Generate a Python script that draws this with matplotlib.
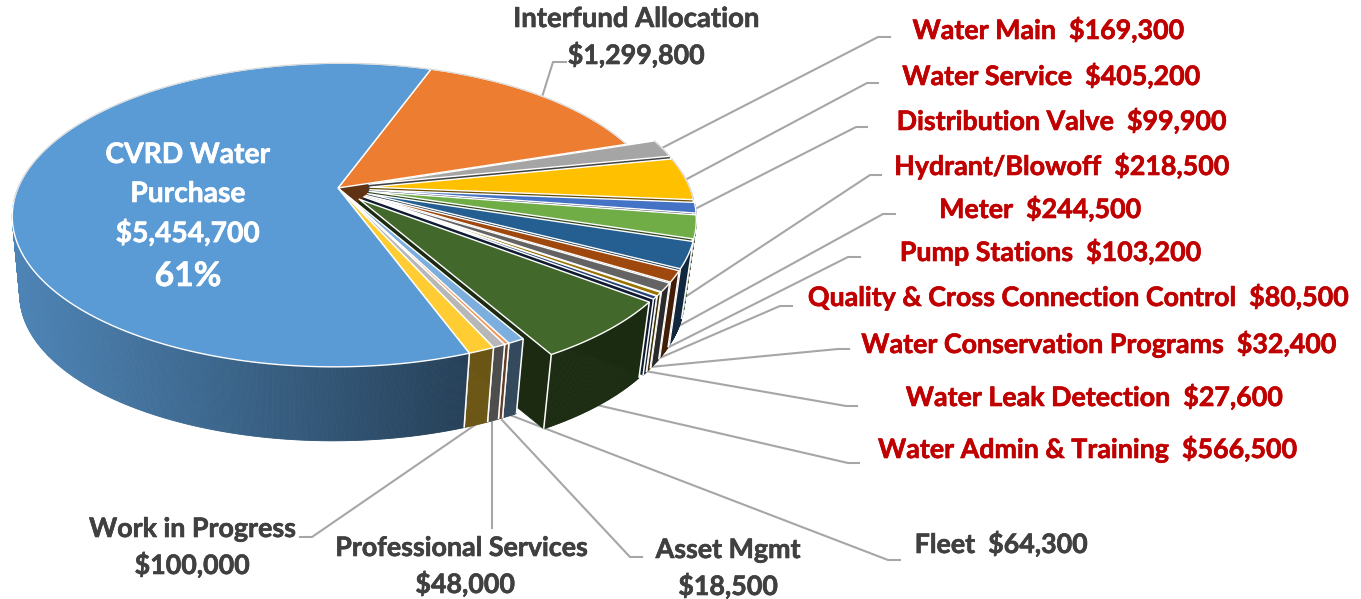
import numpy as np
import matplotlib
matplotlib.use('Agg')
import matplotlib.pyplot as plt
import matplotlib.patheffects as pe
from matplotlib.patches import Polygon

plt.rcParams['font.family'] = ['Lato', 'DejaVu Sans']

# Datos, en sentido horario desde CVRD
names = ['CVRD Water Purchase', 'Interfund Allocation', 'Water Main', 'Water Service',
         'Distribution Valve', 'Hydrant/Blowoff', 'Meter', 'Pump Stations',
         'Quality & Cross Connection Control', 'Water Conservation Programs',
         'Water Leak Detection', 'Water Admin & Training', 'Fleet', 'Asset Mgmt',
         'Professional Services', 'Work in Progress']
amounts = [5454700, 1299800, 169300, 405200, 99900, 218500, 244500, 103200,
           80500, 32400, 27600, 566500, 64300, 18500, 48000, 100000]
exploded = [0, 0, 1, 1, 1, 1, 1, 1, 1, 1, 1, 1, 0, 0, 0, 0]
colors = ['#5B9BD5', '#ED7D31', '#A5A5A5', '#FFC000', '#4472C4', '#70AD47', '#255E91', '#9E480E',
          '#636363', '#997300', '#264478', '#43682B', '#7CAFDD', '#F1975A', '#B7B7B7', '#FFCD33']

# Geometria de la proyeccion (pixeles de la imagen)
CX, CY = 338, 188
A, B, K = 320, 147, 0.178
SHEAR = -0.02
DROP, SCALE = 79, 0.972
START = 19.3        # grados desde el norte donde empieza Interfund
EXPLODE = 0.10
GREY, RED = '#404040', '#C00000'
FS = 19.3


def proj(u, v, low=False):
    u, v = np.asarray(u, float), np.asarray(v, float)
    w = 1 + K * v
    s = SCALE if low else 1.0
    x = CX + s * A * u / w
    y = CY - s * B * v / w + (DROP if low else 0)
    return x + SHEAR * (y - CY), y


def shade(color, x):
    f = np.interp(x, [20, 465], [0.85, 0.42])
    return tuple(np.array(matplotlib.colors.to_rgb(color)) * f)


def draw_slice(ax, a0, a1, color, off, z, face=True):
    ang = np.radians(np.linspace(a0, a1, max(int(a1 - a0) * 3, 2) + 1))
    ru, rv = np.sin(ang) + off[0], np.cos(ang) + off[1]
    xt, yt = proj(ru, rv)
    xb, yb = proj(ru, rv, low=True)
    tx, ty = proj(off[0], off[1])
    bx, by = proj(off[0], off[1], low=True)

    # cara radial visible
    if face:
        dark = tuple(np.array(matplotlib.colors.to_rgb(color)) * 0.40)
        ax.add_patch(Polygon([(tx, ty), (xt[-1], yt[-1]), (xb[-1], yb[-1]), (bx, by)],
                             facecolor=dark, edgecolor=dark, lw=0.5, zorder=z))

    # pared exterior, por tiras para el degradado (la parte de atras no se ve)
    for i in range(len(ang) - 1):
        if rv[i] > 0.1:
            continue
        c = shade(color, xt[i])
        ax.add_patch(Polygon([(xt[i], yt[i]), (xt[i + 1], yt[i + 1]), (xb[i + 1], yb[i + 1]), (xb[i], yb[i])],
                             facecolor=c, edgecolor=c, lw=0.6, zorder=z))
    for i in (0, -1):
        if rv[i] < 0.1:
            ax.plot([xt[i], xb[i]], [yt[i], yb[i]], color='white', lw=1.1, solid_capstyle='butt', zorder=z)

    # cara superior
    ax.add_patch(Polygon(np.vstack([[tx, ty], np.column_stack([xt, yt])]),
                         facecolor=color, edgecolor='white', lw=1.0, joinstyle='round', zorder=z))
    back = rv > -0.1
    if back.any():
        ax.plot(xt[back], yt[back], color='#D9D9D9', lw=0.8, zorder=z)


fig = plt.figure(figsize=(13.61, 5.99), dpi=100)
ax = fig.add_axes([0, 0, 1, 1])
ax.set_xlim(0, 1361)
ax.set_ylim(599, 0)
ax.axis('off')

sweep = np.array(amounts) / sum(amounts) * 360
ends = np.cumsum(sweep) + START - sweep[0]
starts = ends - sweep


def offset(i):
    mid = np.radians((starts[i] + ends[i]) / 2)
    return (EXPLODE * np.sin(mid) * exploded[i], EXPLODE * np.cos(mid) * exploded[i])


# Orden de pintado: fondo primero
order = [1] + list(range(2, 12)) + [12, 13, 14, 15, 0]
for z, i in enumerate(order):
    draw_slice(ax, starts[i], ends[i], colors[i], offset(i), z + 2, face=i in range(1, 12))

# Lineas guia
leaders = [[(542, 97), (553, 62), (566, 62)],
           [(662, 148), (878, 37), (890, 37)],
           [(685, 180), (867, 83), (878, 83)],
           [(695, 209), (856, 127), (867, 127)],
           [(685, 297), (870, 175), (881, 175)],
           [(677, 327), (883, 214), (895, 214)],
           [(663, 350), (848, 257), (860, 257)],
           [(655, 360), (780, 306), (792, 306)],
           [(650, 367), (838, 349), (849, 349)],
           [(645, 371), (846, 406), (857, 406)],
           [(597, 405), (848, 463), (859, 463)],
           [(510, 415), (888, 560), (900, 560)],
           [(502, 420), (630, 557), (642, 557)],
           [(492, 422), (492, 528)],
           [(475, 425), (312, 537), (300, 537)]]
for pts in leaders:
    xs, ys = zip(*pts)
    ax.plot(xs, ys, color='#A6A6A6', lw=1.5, solid_joinstyle='round', zorder=1.5)


def money(v):
    return f'${v:,.0f}'


def put(x, y, txt, color, fs=FS):
    ax.text(x, y, txt, color=color, fontsize=fs, fontweight='bold', ha='center', va='center', zorder=30,
            path_effects=[pe.withStroke(linewidth=0.45, foreground=color)])


def label(i, x, y, color=RED):
    put(x, y, f'{names[i]}  {money(amounts[i])}', color)


def label2(i, x, y, x2=None, fs=FS):
    put(x, y, names[i], GREY, fs)
    put(x if x2 is None else x2, y + 36, money(amounts[i]), GREY)


for i, x, y in [(2, 1048, 30), (3, 1051, 76), (4, 1061, 121), (5, 1061, 166), (6, 1040, 209),
                (7, 1050, 252), (8, 1077, 297), (9, 1098, 344), (10, 1094, 397), (11, 1087, 449)]:
    label(i, x, y)
label(12, 1001, 544, GREY)
label2(1, 636, 19, fs=19.8)
label2(13, 728, 550)
label2(14, 461, 548, 465)
label2(15, 192, 529)

# Etiqueta interior
for txt, y, fs in [('CVRD Water', 155, 20.3), ('Purchase', 194, 20.3), (money(amounts[0]), 233, 20.3),
                   (f'{amounts[0] / sum(amounts):.0%}', 276, 24.3)]:
    put(188, y, txt, 'white', fs)

fig.savefig('out.png', dpi=100)
